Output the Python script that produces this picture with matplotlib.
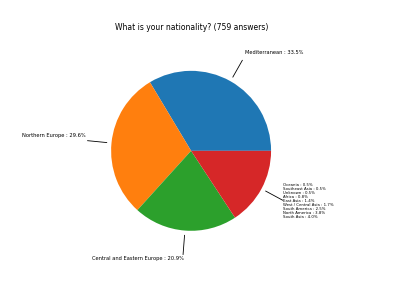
import numpy as np
import matplotlib
matplotlib.use("Agg")
import matplotlib.pyplot as plt

title = "What is your nationality? (759 answers)"
main_labels = ["Mediterranean", "Northern Europe", "Central and Eastern Europe"]
main_pcts = [33.5, 29.6, 20.9]
other_labels = ["Oceania", "Southeast Asia", "Unknown", "Africa", "East Asia",
                "West / Central Asia", "South America", "North America", "South Asia"]
other_pcts = [0.5, 0.5, 0.5, 0.8, 1.4, 1.7, 2.5, 3.8, 4.0]
colors = ["#1f77b4", "#ff7f0e", "#2ca02c", "#d62728"]

sizes = main_pcts + [sum(other_pcts)]
texts = [f"{l} : {p}%" for l, p in zip(main_labels, main_pcts)]
texts.append("\n".join(f"{l} : {p}%" for l, p in zip(other_labels, other_pcts)))

fig = plt.figure(figsize=(4.07, 3.05), dpi=100)
ax = fig.add_axes([0.273, 0.243, 0.393, 0.525])
wedges, _ = ax.pie(sizes, colors=colors, startangle=0, counterclock=True)
ax.set_xlim(-1, 1)
ax.set_ylim(-1, 1)
ax.set_aspect("equal")

fig.text(0.47, 0.91, title, ha="center", va="center", fontsize=5.5)

# text alignment and small offset from line end (data units)
aligns = [("left", "center", 0.03, 0.095),
          ("right", "center", -0.03, 0.065),
          ("right", "center", 0.01, -0.055),
          ("left", "center", 0.01, -0.01)]
fsizes = [3.7, 3.7, 3.7, 2.8]
for w, t, (ha, va, dx, dy), fs in zip(wedges, texts, aligns, fsizes):
    ang = np.deg2rad((w.theta1 + w.theta2) / 2)
    c, s = np.cos(ang), np.sin(ang)
    x0, y0 = 1.06 * c, 1.06 * s
    x1, y1 = 1.3 * c, 1.3 * s
    ax.plot([x0, x1], [y0, y1], color="black", lw=0.6, clip_on=False)
    ax.text(x1 + dx, y1 + dy, t, ha=ha, va=va, fontsize=fs,
            linespacing=1.0, clip_on=False)

fig.savefig("out.png", dpi=100)
